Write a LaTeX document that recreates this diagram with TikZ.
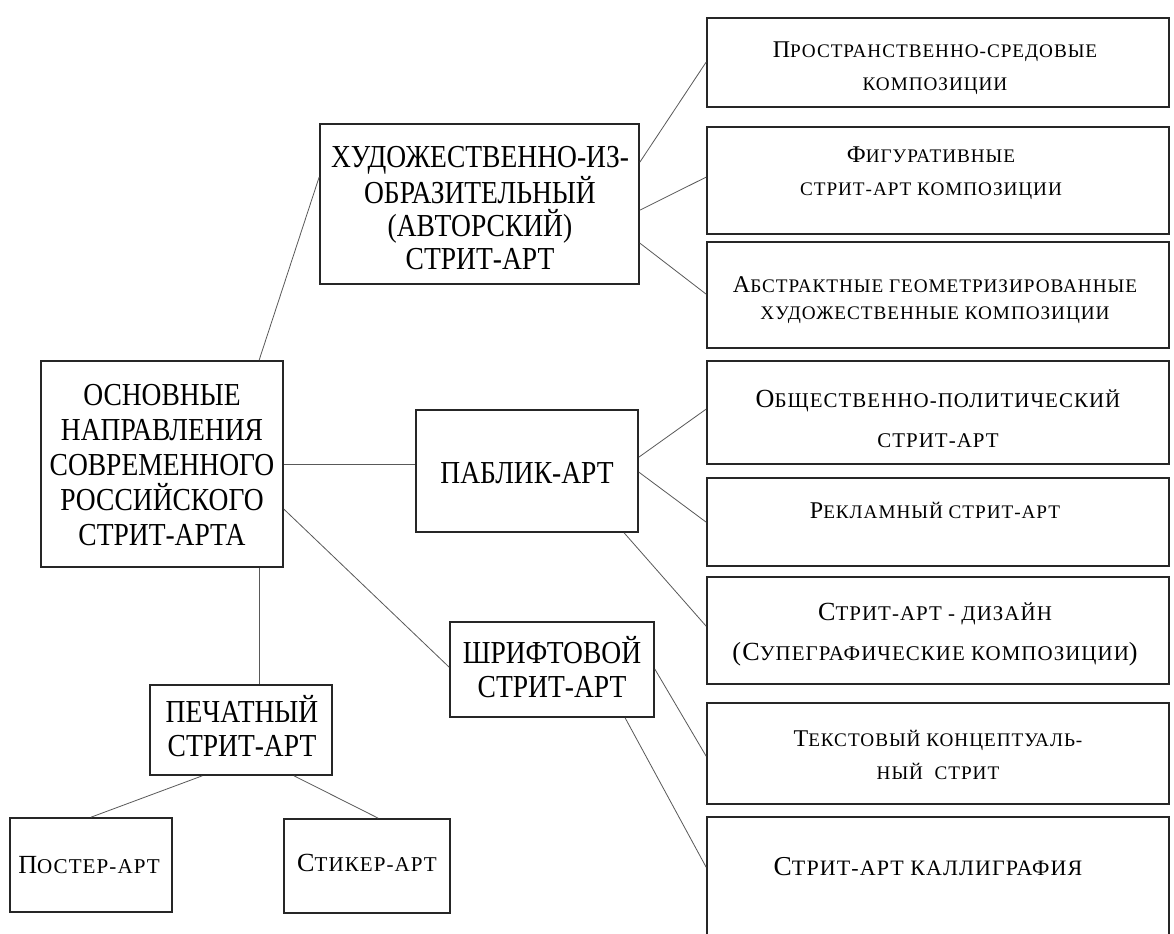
\documentclass[tikz,border=0pt]{standalone}
\usepackage{fontspec}
\setmainfont{Liberation Serif}
\newfontfamily\condf[FakeStretch=0.86]{Liberation Serif}
\newfontfamily\scf[LetterSpace=5]{Liberation Serif}
\usetikzlibrary{calc}
\def\scs{14.4}
\newcommand\smc[1]{{\scf\fontsize{\scs}{25}\selectfont #1}}
\newcommand\smb[1]{{\scf\fontsize{15.8}{25}\selectfont #1}}
\tikzset{
  box/.style={draw=black!85, line width=1.3pt, inner sep=0pt},
  sz/.style 2 args={minimum width=#1*0.75pt, minimum height=#2*0.75pt},
  link/.style={draw=black!65, line width=0.6pt},
  lt/.style={align=center, font=\condf\fontsize{24}{25.5}\selectfont, inner sep=0pt},
  rt/.style={align=center, font=\scf\fontsize{18}{25}\selectfont, inner sep=0pt},
  bt/.style={align=center, font=\scf\fontsize{19.6}{25}\selectfont, inner sep=0pt}}
\begin{document}
\begin{tikzpicture}[x=0.75pt,y=-0.75pt]
\useasboundingbox (0,0) rectangle (1174,933);
\clip (0,0) rectangle (1174,933);
\fill[white] (0,0) rectangle (1174,933);

% boxes
\node[box, sz={462}{89}]  (p1) at (938,62.5) {};
\node[box, sz={462}{107}] (p2) at (938,180.5) {};
\node[box, sz={462}{106}] (p3) at (938,295) {};
\node[box, sz={462}{103}] (p4) at (938,412.5) {};
\node[box, sz={462}{88}]  (p5) at (938,522) {};
\node[box, sz={462}{107}] (p6) at (938,630.5) {};
\node[box, sz={462}{101}] (p7) at (938,753.5) {};
\node[box, sz={462}{128}] (p8) at (938,881) {};
\node[box, sz={319}{160}] (hud) at (479.5,204) {};
\node[box, sz={242}{206}] (main) at (162,464) {};
\node[box, sz={222}{122}] (pub) at (527,471) {};
\node[box, sz={204}{95}]  (shr) at (552,669.5) {};
\node[box, sz={182}{90}]  (pech) at (241,730) {};
\node[box, sz={162}{94}]  (post) at (91,865) {};
\node[box, sz={166}{94}]  (stik) at (367,866) {};

% texts
\node[rt] (t1) at (935,68) {П\smc{РОСТРАНСТВЕННО-СРЕДОВЫЕ}\\\smc{КОМПОЗИЦИИ}};
\node[rt] (t2) at (931,173) {Ф\smc{ИГУРАТИВНЫЕ}\\\smc{СТРИТ-АРТ КОМПОЗИЦИИ}};
\node[rt, font=\scf\fontsize{18}{20.5}\selectfont] (t3) at (935,300) {А\smc{БСТРАКТНЫЕ ГЕОМЕТРИЗИРОВАННЫЕ}\\\smc{ХУДОЖЕСТВЕННЫЕ КОМПОЗИЦИИ}};
\node[rt, font=\scf\fontsize{19.6}{30}\selectfont\def\scs{15.7}] (t4) at (938,419) {О\smc{БЩЕСТВЕННО-ПОЛИТИЧЕСКИЙ}\\\smc{СТРИТ-АРТ}};
\node[rt] (t5) at (935,510) {Р\smc{ЕКЛАМНЫЙ СТРИТ-АРТ}};
\node[rt, font=\scf\fontsize{19.6}{30}\selectfont\def\scs{15.7}] (t6) at (935,634) {С\smc{ТРИТ-АРТ - ДИЗАЙН}\\(С\smc{УПЕГРАФИЧЕСКИЕ КОМПОЗИЦИИ})};
\node[rt] (t7) at (938,755) {Т\smc{ЕКСТОВЫЙ КОНЦЕПТУАЛЬ-}\\\smc{НЫЙ\ \ СТРИТ}};
\node[rt, font=\scf\fontsize{20.5}{25}\selectfont\def\scs{16.5}] (t8) at (928,867) {С\smc{ТРИТ-АРТ КАЛЛИГРАФИЯ}};
\node[lt, font=\condf\fontsize{24}{24.8}\selectfont] (thud) at (480,208) {ХУДОЖЕСТВЕННО-ИЗ-\\ОБРАЗИТЕЛЬНЫЙ\\(АВТОРСКИЙ)\\СТРИТ-АРТ};
\node[lt, font=\condf\fontsize{24}{26.2}\selectfont] (tmain) at (162,465) {ОСНОВНЫЕ\\НАПРАВЛЕНИЯ\\СОВРЕМЕННОГО\\РОССИЙСКОГО\\СТРИТ-АРТА};
\node[lt] (tpub) at (527,473) {ПАБЛИК-АРТ};
\node[lt] (tshr) at (552,667) {ШРИФТОВОЙ\\СТРИТ-АРТ};
\node[lt] (tpech) at (242,726) {ПЕЧАТНЫЙ\\СТРИТ-АРТ};
\node[bt] (tpost) at (89,865) {П\smb{ОСТЕР-АРТ}};
\node[bt] (tstik) at (367,863) {С\smb{ТИКЕР-АРТ}};

% connectors
\draw[link] ($(main.north west)+(219,0)$) -- ($(hud.north west)+(0,54)$);
\draw[link] ($(hud.north east)+(0,39)$) -- ($(p1.north west)+(0,45)$);
\draw[link] ($(hud.north east)+(0,87)$) -- ($(p2.north west)+(0,51)$);
\draw[link] ($(hud.north east)+(0,120)$) -- ($(p3.north west)+(0,53)$);
\draw[link] ($(main.north east)+(0,104)$) -- ($(pub.north west)+(0,55)$);
\draw[link] ($(main.north east)+(0,149)$) -- ($(shr.north west)+(0,46)$);
\draw[link] ($(main.south west)+(219,0)$) -- ($(pech.north west)+(110,0)$);
\draw[link] ($(pub.north east)+(0,48)$) -- ($(p4.north west)+(0,49)$);
\draw[link] ($(pub.north east)+(0,63)$) -- ($(p5.north west)+(0,45)$);
\draw[link] ($(pub.south west)+(209,0)$) -- ($(p6.north west)+(0,50)$);
\draw[link] ($(shr.north east)+(0,48)$) -- ($(p7.north west)+(0,54)$);
\draw[link] ($(shr.south west)+(176,0)$) -- ($(p8.north west)+(0,51)$);
\draw[link] ($(pech.south west)+(53,0)$) -- ($(post.north west)+(82,0)$);
\draw[link] ($(pech.south west)+(145,0)$) -- ($(stik.north west)+(95,0)$);
\end{tikzpicture}
\end{document}
